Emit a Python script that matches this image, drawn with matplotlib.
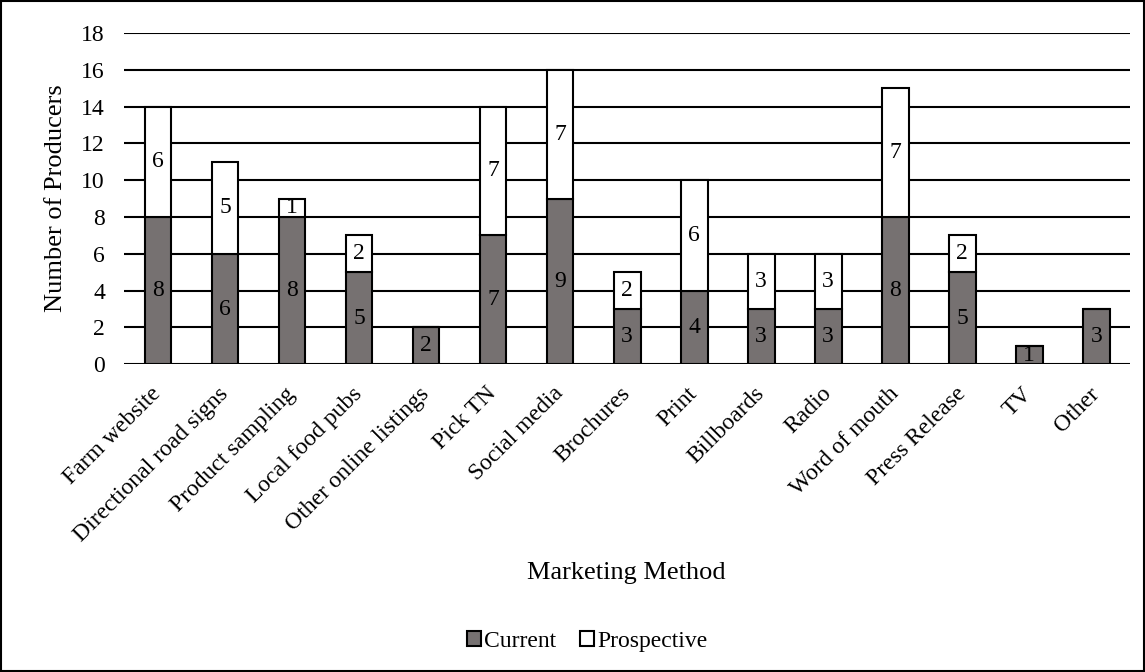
import matplotlib.pyplot as plt
import numpy as np
from matplotlib.patches import Rectangle

plt.rcParams['font.family'] = ['Liberation Serif', 'DejaVu Serif']

methods = ["Farm website", "Directional road signs", "Product sampling",
           "Local food pubs", "Other online listings", "Pick TN", "Social media",
           "Brochures", "Print", "Billboards", "Radio", "Word of mouth",
           "Press Release", "TV", "Other"]
current = [8, 6, 8, 5, 2, 7, 9, 3, 4, 3, 3, 8, 5, 1, 3]
prospective = [6, 5, 1, 2, 0, 7, 7, 2, 6, 3, 3, 7, 2, 0, 0]
yticks = [0, 2, 4, 6, 8, 10, 12, 14, 16, 18]

fig = plt.figure(figsize=(11.45, 6.72), dpi=100)
ax = fig.add_axes([0.1087, 0.458, 0.878, 0.493])

x = np.arange(len(methods))
w = 0.4
for y in yticks:
    ax.axhline(y, color="black", lw=1.5, zorder=0)

b1 = ax.bar(x, current, width=w, color="#767171", edgecolor="black",
            lw=1.5, label="Current", zorder=2)
b2 = ax.bar(x, prospective, width=w, bottom=current, color="white",
            edgecolor="black", lw=1.5, label="Prospective", zorder=2)

# value labels in the middle of each segment
for i in range(len(methods)):
    if current[i]:
        ax.text(x[i], current[i] / 2, str(current[i]), ha="center",
                va="center", fontsize=17, zorder=3)
    if prospective[i]:
        ax.text(x[i], current[i] + prospective[i] / 2, str(prospective[i]),
                ha="center", va="center", fontsize=17, zorder=3)

ax.set_xlim(-0.5, len(methods) - 0.5)
ax.set_ylim(0, 18)
ax.set_yticks(yticks)
ax.set_xticks(x)
ax.set_xticklabels(methods, rotation=45, ha="right", va="center",
                   rotation_mode="anchor")
ax.tick_params(axis="y", length=0, labelsize=17, pad=14)
ax.tick_params(axis="x", length=0, labelsize=17, pad=19)
for s in ax.spines.values():
    s.set_visible(False)

ax.set_ylabel("Number of Producers", fontsize=19, labelpad=10)
fig.text(0.547, 0.147, "Marketing Method", ha="center", va="center", fontsize=19)

fig.legend(handles=[b1, b2], loc="center", bbox_to_anchor=(0.513, 0.045),
           ncol=2, frameon=False, fontsize=17, handlelength=0.6,
           handleheight=0.6, handletextpad=0.15, columnspacing=1.0)

fig.patches.append(Rectangle((0.001, 0.001), 0.998, 0.998, transform=fig.transFigure,
                             fill=False, edgecolor="black", lw=1.5))

fig.savefig("out.png", dpi=100)
